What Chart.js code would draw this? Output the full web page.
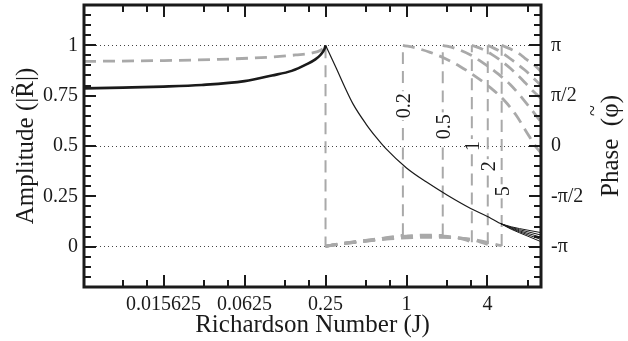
<!DOCTYPE html>
<html>
<head>
<meta charset="utf-8">
<script src="https://cdn.jsdelivr.net/npm/chart.js@4.4.0/dist/chart.umd.min.js"></script>
<style>
  html, body { margin: 0; padding: 0; background: #fff; }
  #wrap { width: 628px; height: 341px; }
</style>
</head>
<body>
<div id="wrap"><canvas id="chart" width="628" height="341"></canvas></div>
<script>
// ---------- axis ticks ----------
const xTicks = [0.015625, 0.0625, 0.25, 1, 4];
const xMinorTicks = [0.0078125, 0.01171875, 0.03125, 0.046875, 0.125, 0.1875, 0.5, 0.75, 2, 3, 8];
const ampTicks = [0, 0.25, 0.5, 0.75, 1];
const phaseTicks = [-1, -0.5, 0, 0.5, 1];            // in units of pi
const phaseTickLabels = ['-π', '-π/2', '0', 'π/2', 'π'];
const dottedLines = [0, 0.5, 1];

// ---------- amplitude |R| (black) ----------
const ampJLow = [0.004, 0.0078, 0.0156, 0.03, 0.0625, 0.1, 0.14, 0.18, 0.21, 0.23, 0.245, 0.25];
const ampLow  = [0.786, 0.79, 0.795, 0.803, 0.822, 0.85, 0.873, 0.905, 0.93, 0.953, 0.98, 1.0];

const ampJHigh = [0.25, 0.3, 0.35, 0.4, 0.5, 0.6, 0.7, 1, 1.4, 2, 3, 4, 5];
const ampHigh  = [1.0, 0.887, 0.788, 0.709, 0.609, 0.54, 0.488, 0.391, 0.322, 0.257, 0.19, 0.15, 0.115];

// the five curves split apart near the right edge
const ampJTail = [5, 6, 8, 10];
const ampTails = [
  [0.115, 0.099, 0.082, 0.070],
  [0.115, 0.096, 0.074, 0.058],
  [0.115, 0.093, 0.066, 0.047],
  [0.115, 0.090, 0.059, 0.036],
  [0.115, 0.087, 0.052, 0.025]
];

// ---------- phase (grey dashed), in units of pi ----------
const phaseJLeft = [0.004, 0.015, 0.04, 0.1, 0.15, 0.2, 0.23, 0.25];
const phaseLeft  = [0.84, 0.848, 0.86, 0.884, 0.904, 0.924, 0.95, 0.99];

const curveNames = ['0.2', '0.5', '1', '2', '5'];
const jumpJ = [0.94, 1.86, 3.06, 4.02, 5.1];
const labelPhase = [0.40, 0.19, 0.0, -0.2, -0.45];

const lowerJ = [
  [0.25, 0.3, 0.4, 0.55, 0.75, 0.94],
  [0.25, 0.3, 0.4, 0.55, 0.75, 1.0, 1.4, 1.86],
  [0.25, 0.3, 0.4, 0.55, 0.75, 1.0, 1.4, 1.9, 2.4, 2.8, 3.06],
  [0.25, 0.3, 0.4, 0.55, 0.75, 1.0, 1.4, 1.9, 2.5, 3.1, 3.6, 4.02],
  [0.25, 0.3, 0.4, 0.55, 0.75, 1.0, 1.4, 1.9, 2.5, 3.2, 4.0, 4.6, 5.1]
];
const lowerPhase = [
  [-0.996, -0.976, -0.952, -0.93, -0.906, -0.886],
  [-0.996, -0.976, -0.954, -0.932, -0.91, -0.894, -0.884, -0.888],
  [-0.996, -0.978, -0.956, -0.934, -0.914, -0.9, -0.892, -0.896, -0.912, -0.936, -0.956],
  [-0.996, -0.978, -0.958, -0.936, -0.918, -0.906, -0.9, -0.902, -0.912, -0.932, -0.956, -0.976],
  [-0.996, -0.98, -0.96, -0.94, -0.922, -0.912, -0.906, -0.908, -0.916, -0.932, -0.956, -0.976, -0.992]
];
const upperJ = [
  [0.94, 1.2, 1.5, 1.9, 2.5, 3.15, 4.2, 5.3, 6.5, 7.8, 9.3, 10],
  [1.86, 2.3, 3.0, 3.85, 4.8, 5.9, 7.0, 8.5, 10],
  [3.06, 3.6, 4.3, 5.0, 6.0, 7.6, 8.8, 10],
  [4.02, 4.8, 5.6, 6.42, 7.5, 8.7, 10],
  [5.1, 6.0, 7.0, 7.6, 8.8, 10]
];
const upperPhase = [
  [1, 0.97, 0.93, 0.874, 0.79, 0.704, 0.58, 0.456, 0.31, 0.14, -0.02, -0.07],
  [1, 0.97, 0.904, 0.81, 0.716, 0.61, 0.5, 0.36, 0.24],
  [1, 0.966, 0.91, 0.85, 0.764, 0.63, 0.54, 0.474],
  [1, 0.95, 0.89, 0.83, 0.76, 0.68, 0.6],
  [1, 0.96, 0.91, 0.87, 0.81, 0.74]
];

// ---------- helpers ----------
const SERIF = '"Liberation Serif", "DejaVu Serif", serif';
const GREY = '#a9a9a9';
const INK = '#1a1a1a';

function toPts(xs, ys) {
  return xs.map((v, i) => ({ x: v, y: ys[i] }));
}

function ampLine(pts, width) {
  return {
    data: pts, yAxisID: 'y', borderColor: INK, borderWidth: width,
    pointRadius: 0, cubicInterpolationMode: 'monotone', order: 0
  };
}

function phaseLine(pts, width) {
  return {
    data: pts, yAxisID: 'y2', borderColor: GREY, borderWidth: width,
    borderDash: [12, 7], pointRadius: 0, cubicInterpolationMode: 'monotone', order: 1
  };
}

const datasets = [];
datasets.push(ampLine(toPts(ampJLow, ampLow), 2.6));
datasets.push(ampLine(toPts(ampJHigh, ampHigh), 1.2));
ampTails.forEach(t => datasets.push(ampLine(toPts(ampJTail, t), 1)));

datasets.push(phaseLine(toPts(phaseJLeft, phaseLeft), 2.8));
// wrap-around at J = 1/4 (pi -> -pi)
datasets.push(phaseLine([{ x: 0.25, y: phaseLeft[phaseLeft.length - 1] }, { x: 0.25, y: -1 }], 2));
curveNames.forEach((n, i) => {
  const lo = lowerPhase[i];
  datasets.push(phaseLine(toPts(lowerJ[i], lo), 2.8));
  datasets.push(phaseLine([{ x: jumpJ[i], y: lo[lo.length - 1] }, { x: jumpJ[i], y: upperPhase[i][0] }], 2));
  datasets.push(phaseLine(toPts(upperJ[i], upperPhase[i]), 2.8));
});

// ---------- ticks inside the frame, labels, right title ----------
const decor = {
  id: 'decor',
  afterDatasetsDraw(chart) {
    const { ctx, chartArea: a } = chart;
    const x = chart.scales.x, y = chart.scales.y, y2 = chart.scales.y2;
    ctx.save();

    // curve labels on the jump lines
    ctx.font = '20px ' + SERIF;
    ctx.textAlign = 'center';
    ctx.textBaseline = 'middle';
    curveNames.forEach((name, i) => {
      const px = x.getPixelForValue(jumpJ[i]);
      const py = y2.getPixelForValue(labelPhase[i]);
      ctx.save();
      ctx.translate(px + 1, py);
      ctx.rotate(-Math.PI / 2);
      const w = ctx.measureText(name).width;
      ctx.fillStyle = '#fff';
      ctx.fillRect(-w / 2 - 2, -7, w + 4, 14);
      ctx.fillStyle = INK;
      ctx.fillText(name, 0, 1);
      ctx.restore();
    });

    // tick marks
    ctx.strokeStyle = INK;
    ctx.lineWidth = 2;
    ctx.beginPath();
    const vTick = (px, len) => {
      ctx.moveTo(px, a.bottom); ctx.lineTo(px, a.bottom - len);
      ctx.moveTo(px, a.top); ctx.lineTo(px, a.top + len);
    };
    xTicks.forEach(v => vTick(Math.round(x.getPixelForValue(v)), 12));
    xMinorTicks.forEach(v => vTick(Math.round(x.getPixelForValue(v)), 7));
    for (let k = -3; k <= 23; k++) {
      const py = Math.round(y.getPixelForValue(k * 0.05));
      const len = (k % 5 === 0) ? 12 : 7;
      ctx.moveTo(a.left, py); ctx.lineTo(a.left + len, py);
      ctx.moveTo(a.right, py); ctx.lineTo(a.right - len, py);
    }
    ctx.stroke();

    // frame
    ctx.lineWidth = 3;
    ctx.strokeRect(a.left, a.top, a.right - a.left, a.bottom - a.top);

    // right axis title, reads bottom to top like the left one
    ctx.save();
    ctx.translate(611, (a.top + a.bottom) / 2);
    ctx.rotate(-Math.PI / 2);
    ctx.font = '25px ' + SERIF;
    ctx.fillStyle = INK;
    ctx.textAlign = 'left';
    ctx.textBaseline = 'middle';
    const title = 'Phase  (φ)';
    const tw = ctx.measureText(title).width;
    ctx.fillText(title, -tw / 2, 0);
    // tilde over the phi
    const before = ctx.measureText('Phase  (').width;
    const phiW = ctx.measureText('φ').width;
    ctx.font = '20px ' + SERIF;
    ctx.textAlign = 'center';
    ctx.fillText('~', -tw / 2 + before + phiW / 2, -17);
    ctx.restore();

    ctx.restore();
  }
};

new Chart(document.getElementById('chart'), {
  type: 'line',
  data: { datasets: datasets },
  options: {
    responsive: false,
    animation: false,
    layout: { padding: { top: 5, left: 0, right: 0, bottom: 0 } },
    plugins: { legend: { display: false }, tooltip: { enabled: false } },
    scales: {
      x: {
        type: 'logarithmic',
        position: 'bottom',
        min: 0.004,
        max: 10,
        afterBuildTicks: s => { s.ticks = xTicks.map(v => ({ value: v })); },
        afterFit: s => { s.height = 54; s.paddingLeft = 0; s.paddingRight = 0; },
        grid: { display: false, drawTicks: false },
        border: { display: false },
        ticks: {
          autoSkip: false, maxRotation: 0, padding: 6, color: INK,
          font: { family: SERIF, size: 20 },
          callback: v => String(v)
        },
        title: {
          display: true, text: 'Richardson Number (J)', color: INK,
          font: { family: SERIF, size: 25 }, padding: { top: 0, bottom: 1 }
        }
      },
      y: {
        position: 'left',
        min: -0.2,
        max: 1.2,
        afterBuildTicks: s => { s.ticks = ampTicks.map(v => ({ value: v })); },
        afterFit: s => { s.width = 84; s.paddingTop = 0; s.paddingBottom = 0; },
        grid: {
          drawTicks: false, lineWidth: 1,
          color: c => (dottedLines.includes(c.tick.value) ? '#444' : 'rgba(0,0,0,0)')
        },
        border: { display: false, dash: [1, 3] },
        ticks: {
          padding: 6, color: INK, font: { family: SERIF, size: 20 },
          callback: v => String(v)
        },
        title: {
          display: true, text: 'Amplitude (|R̃|)', color: INK,
          font: { family: SERIF, size: 25 }, padding: { top: 11, bottom: 0 }
        }
      },
      y2: {
        position: 'right',
        min: -1.4,
        max: 1.4,
        afterBuildTicks: s => { s.ticks = phaseTicks.map(v => ({ value: v })); },
        afterFit: s => { s.width = 87; s.paddingTop = 0; s.paddingBottom = 0; },
        grid: { display: false, drawTicks: false },
        border: { display: false },
        ticks: {
          padding: 10, color: INK, font: { family: SERIF, size: 20 },
          callback: v => phaseTickLabels[phaseTicks.indexOf(v)]
        }
      }
    }
  },
  plugins: [decor]
});
</script>
</body>
</html>
